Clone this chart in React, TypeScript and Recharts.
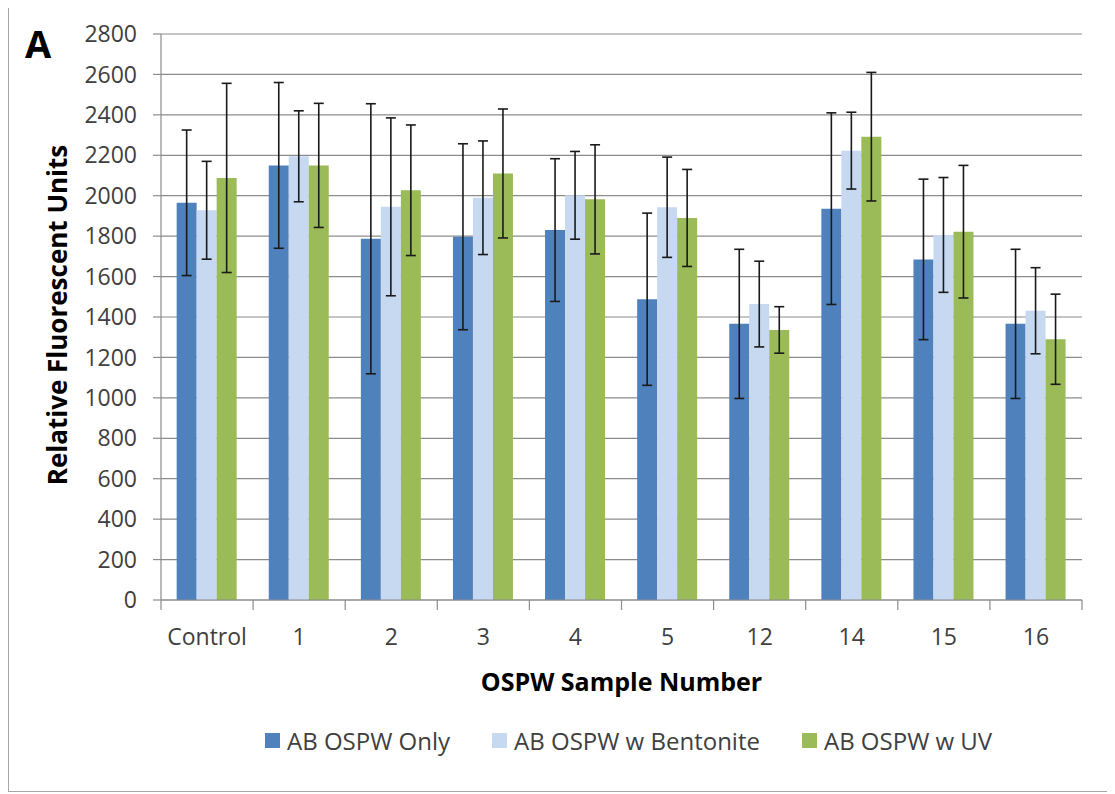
import { BarChart, Bar, XAxis, YAxis, CartesianGrid, Legend, ErrorBar, Label } from 'recharts';

const categories = ['Control', '1', '2', '3', '4', '5', '12', '14', '15', '16'];

const abOnly = [1965, 2150, 1787, 1797, 1830, 1488, 1366, 1936, 1685, 1366];
const abOnlyErr = [360, 410, 668, 460, 353, 426, 369, 474, 397, 369];

const abBentonite = [1928, 2195, 1945, 1990, 2002, 1943, 1464, 2223, 1806, 1431];
const abBentoniteErr = [242, 225, 440, 281, 217, 248, 212, 190, 284, 213];

const abUV = [2088, 2150, 2027, 2110, 1982, 1890, 1336, 2292, 1822, 1290];
const abUVErr = [468, 307, 323, 319, 270, 240, 115, 318, 328, 223];

const yTicks = [0, 200, 400, 600, 800, 1000, 1200, 1400, 1600, 1800, 2000, 2200, 2400, 2600, 2800];

const data = categories.map((name, i) => ({
  name,
  only: abOnly[i],
  onlyErr: abOnlyErr[i],
  bentonite: abBentonite[i],
  bentoniteErr: abBentoniteErr[i],
  uv: abUV[i],
  uvErr: abUVErr[i],
}));

const CHART_W = 1101;
const CHART_H = 785;
const PLOT_W = 921;
const GRID = '#8c8c8c';
const TEXT = '#404040';

// Excel puts the x ticks on category boundaries, so draw them with the label
const CategoryTick = (props: any) => {
  const { x, y, payload, index } = props;
  const half = PLOT_W / categories.length / 2;
  return (
    <g>
      <line x1={x - half} x2={x - half} y1={y} y2={y + 10} stroke={GRID} strokeWidth={1.2} />
      {index === categories.length - 1 && (
        <line x1={x + half} x2={x + half} y1={y} y2={y + 10} stroke={GRID} strokeWidth={1.2} />
      )}
      <text x={x} y={y + 45} textAnchor="middle" fill={TEXT} fontSize={23}>
        {payload.value}
      </text>
    </g>
  );
};

const LegendContent = (props: any) => {
  const { payload } = props;
  return (
    <div style={{ display: 'flex', alignItems: 'center', height: 30 }}>
      {(payload || []).map((entry: any) => (
        <div key={entry.value} style={{ display: 'flex', alignItems: 'center', marginRight: 42 }}>
          <span style={{ width: 15, height: 15, background: entry.color, marginRight: 7, display: 'inline-block' }} />
          <span style={{ fontSize: 24, color: TEXT, whiteSpace: 'nowrap' }}>{entry.value}</span>
        </div>
      ))}
    </div>
  );
};

export default function App() {
  return (
    <div
      style={{
        position: 'relative',
        width: 1103,
        height: 787,
        marginTop: -3,
        border: '1px solid #a6a6a6',
        boxSizing: 'border-box',
        background: '#fff',
        fontFamily: '"Open Sans", sans-serif',
      }}
    >
      <div
        style={{
          position: 'absolute',
          left: 16,
          top: 18,
          fontSize: 38,
          lineHeight: 1,
          fontWeight: 700,
          color: '#000',
          zIndex: 2,
        }}
      >
        A
      </div>
      <BarChart
        width={CHART_W}
        height={CHART_H}
        data={data}
        margin={{ top: 28, right: 28, left: 52, bottom: 131 }}
        barCategoryGap="17%"
        barGap={0}
      >
        <CartesianGrid vertical={false} stroke={GRID} strokeWidth={1.2} />
        <XAxis
          dataKey="name"
          height={60}
          interval={0}
          axisLine={{ stroke: GRID, strokeWidth: 1.2 }}
          tickLine={false}
          tickSize={0}
          tickMargin={0}
          tick={<CategoryTick />}
        >
          <Label
            value="OSPW Sample Number"
            position="bottom"
            offset={13}
            style={{ fontSize: 25, fontWeight: 700, fill: '#000' }}
          />
        </XAxis>
        <YAxis
          width={100}
          domain={[0, 2800]}
          ticks={yTicks}
          interval={0}
          axisLine={{ stroke: GRID, strokeWidth: 1.2 }}
          tickLine={{ stroke: GRID, strokeWidth: 1.2 }}
          tickSize={8}
          tickMargin={16}
          tick={{ fill: TEXT, fontSize: 23 }}
        >
          <Label
            value="Relative Fluorescent Units"
            angle={-90}
            position="center"
            dx={-53}
            dy={-2}
            style={{ fontSize: 26, fontWeight: 700, fill: '#000', textAnchor: 'middle' }}
          />
        </YAxis>
        <Legend
          layout="horizontal"
          verticalAlign="middle"
          align="center"
          content={<LegendContent />}
          wrapperStyle={{ top: 719, left: 256, width: 840, height: 30 }}
        />
        <Bar dataKey="only" name="AB OSPW Only" fill="#4f81bd" isAnimationActive={false}>
          <ErrorBar dataKey="onlyErr" width={5} stroke="#1a1a1a" strokeWidth={1.6} direction="y" />
        </Bar>
        <Bar dataKey="bentonite" name="AB OSPW w Bentonite" fill="#c6d9f1" isAnimationActive={false}>
          <ErrorBar dataKey="bentoniteErr" width={5} stroke="#1a1a1a" strokeWidth={1.6} direction="y" />
        </Bar>
        <Bar dataKey="uv" name="AB OSPW w UV" fill="#9bbb59" isAnimationActive={false}>
          <ErrorBar dataKey="uvErr" width={5} stroke="#1a1a1a" strokeWidth={1.6} direction="y" />
        </Bar>
      </BarChart>
    </div>
  );
}
